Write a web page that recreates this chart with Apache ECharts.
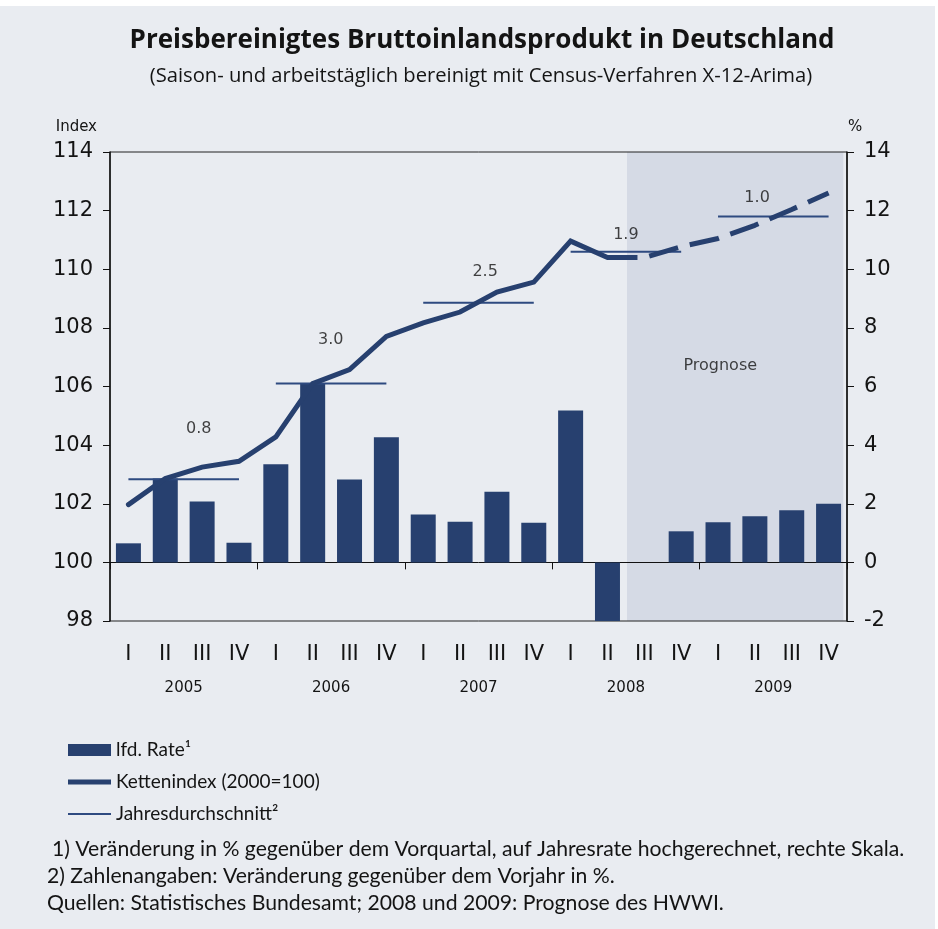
<!DOCTYPE html>
<html><head><meta charset="utf-8">
<script src="https://cdn.jsdelivr.net/npm/echarts@6/dist/echarts.min.js"></script>
<style>
html,body{margin:0;padding:0;background:#ffffff;}
#c{position:absolute;left:0;top:6px;width:935px;height:923px;background:#e9ecf1;}
</style>
</head><body><div id="c"></div>
<script>
// ---------- data ----------
const quarters = ['I','II','III','IV','I','II','III','IV','I','II','III','IV','I','II','III','IV','I','II','III','IV'];
const years = ['2005','2006','2007','2008','2009'];
// lfd. Rate (%), right axis
const rate = [0.65,2.86,2.08,0.67, 3.35,6.11,2.83,4.27, 1.63,1.39,2.41,1.35, 5.18,-2.0,0,1.06, 1.37,1.57,1.78,2.0];
// Kettenindex (2000=100): actual 2005 I .. 2008 II
const indexActual = [101.97,102.86,103.25,103.45, 104.28,106.1,106.58,107.71, 108.17,108.54,109.22,109.56, 110.96,110.4];
// Kettenindex forecast: 2008 II .. 2009 IV
const indexForecast = [110.4,110.4,110.77, 111.05,111.5,112.04,112.6];
// Jahresdurchschnitt (index level of the annual-average bar) and its label
const yearAvg = [102.84,106.1,108.86,110.6,111.8];
const yearAvgLabels = ['0.8','3.0','2.5','1.9','1.0'];
// annotation anchors in data space [quarter position, index]
const yearAvgLabelAt = [[2.41,104.57],[5.99,107.58],[10.18,109.9],[14.0,111.16],[17.56,112.42]];
const prognoseSpan = [14.03,19.9];
const prognoseLabel = 'Prognose';
const prognoseLabelAt = [16.56,106.7];
const leftAxis = {min:98,max:114,interval:2};
const rightAxis = {min:-2,max:14,interval:2};

// ---------- build ----------
const NAVY = '#27406f';
const TXT = '#141414';
const AXF = 'DejaVu Sans';
const TF = 'Lato';

const n = quarters.length;
const actualPadded = quarters.map((_, i) => i < indexActual.length ? indexActual[i] : null);
const fcStart = n - indexForecast.length;
const forecastPadded = quarters.map((_, i) => i >= fcStart ? indexForecast[i - fcStart] : null);

const series = [];
series.push({
  type:'custom', xAxisIndex:3, yAxisIndex:0, z:-1, silent:true,
  data:[prognoseSpan], encode:{x:[0,1]},
  renderItem:(params, api) => {
    const p0 = api.coord([api.value(0), leftAxis.max]);
    const p1 = api.coord([api.value(1), leftAxis.min]);
    return {type:'rect', shape:{x:p0[0], y:p0[1], width:p1[0]-p0[0], height:p1[1]-p0[1]}, style:{fill:'#d5dae5'}};
  }
});
series.push({
  name:'lfd. Rate¹', type:'bar', xAxisIndex:0, yAxisIndex:1, data:rate, barWidth:25,
  itemStyle:{color:NAVY}, z:2, silent:true
});
yearAvg.forEach((v, y) => {
  series.push({
    name:'Jahresdurchschnitt²', type:'line', xAxisIndex:0, yAxisIndex:0,
    data: quarters.map((_, i) => Math.floor(i/4) === y ? v : null),
    symbol:'none', lineStyle:{width:2, color:'#2e4a80'}, itemStyle:{color:'#2e4a80'}, z:3, silent:true
  });
});
series.push({
  name:'Kettenindex (2000=100)', type:'line', xAxisIndex:0, yAxisIndex:0, data:actualPadded,
  symbol:'none', lineStyle:{width:5, color:NAVY, cap:'round', join:'miter'}, itemStyle:{color:NAVY}, z:4, silent:true
});
series.push({
  name:'Kettenindex (2000=100)', type:'line', xAxisIndex:0, yAxisIndex:0, data:forecastPadded,
  symbol:'none', lineStyle:{width:5, color:NAVY, type:[30,12]}, itemStyle:{color:NAVY}, z:4, silent:true
});
const annData = yearAvgLabelAt.map((p, i) => [p[0], p[1], yearAvgLabels[i]]);
annData.push([prognoseLabelAt[0], prognoseLabelAt[1], prognoseLabel]);
series.push({
  type:'scatter', xAxisIndex:3, yAxisIndex:0, data:annData, symbolSize:1, z:5, silent:true,
  itemStyle:{color:'rgba(0,0,0,0)'},
  label:{show:true, position:'inside', formatter:p => p.data[2], fontFamily:AXF, fontSize:16, color:TXT}
});

const axisLabelStyle = {fontFamily:AXF, fontSize:21, color:TXT};

const option = {
  animation:false,
  backgroundColor:'#e9ecf1',
  grid:{left:110, right:88, top:146, bottom:308, show:true, borderColor:'#222', borderWidth:1, backgroundColor:'transparent'},
  xAxis:[
    {type:'category', data:quarters, position:'bottom', axisLine:{show:false}, axisTick:{show:false},
     axisLabel:Object.assign({margin:23, interval:0}, axisLabelStyle), splitLine:{show:false}},
    {type:'category', data:quarters, position:'bottom',
     axisLine:{show:true, onZero:true, onZeroAxisIndex:1, lineStyle:{color:'#111', width:1}},
     axisTick:{show:true, length:7, interval:(i) => i % 4 === 0, lineStyle:{color:'#111'}},
     axisLabel:{show:false}, splitLine:{show:false}},
    {type:'category', data:years, position:'bottom', axisLine:{show:false}, axisTick:{show:false},
     axisLabel:{margin:60, fontFamily:AXF, fontSize:15, color:TXT}, splitLine:{show:false}},
    {type:'value', min:0, max:n, show:false}
  ],
  yAxis:[
    {type:'value', position:'left', min:leftAxis.min, max:leftAxis.max, interval:leftAxis.interval,
     axisLine:{show:true, lineStyle:{color:'#111', width:1.5}},
     axisTick:{show:true, length:7, lineStyle:{color:'#111'}},
     splitLine:{show:false},
     axisLabel:Object.assign({margin:17}, axisLabelStyle),
     name:'Index', nameLocation:'end', nameGap:17,
     nameTextStyle:{fontFamily:AXF, fontSize:15, color:TXT, align:'right', padding:[0,13,0,0]}},
    {type:'value', position:'right', min:rightAxis.min, max:rightAxis.max, interval:rightAxis.interval,
     axisLine:{show:true, lineStyle:{color:'#111', width:1.5}},
     axisTick:{show:true, length:7, lineStyle:{color:'#111'}},
     splitLine:{show:false},
     axisLabel:Object.assign({margin:17}, axisLabelStyle),
     name:'%', nameLocation:'end', nameGap:17,
     nameTextStyle:{fontFamily:AXF, fontSize:15, color:TXT, align:'left', padding:[0,0,0,1]}}
  ],
  legend:{
    orient:'vertical', left:68, top:734, padding:0, itemWidth:43, itemHeight:12, itemGap:12, selectedMode:false,
    textStyle:{fontFamily:TF, fontSize:19, color:TXT, lineHeight:20},
    data:[
      {name:'lfd. Rate¹', icon:'rect'},
      {name:'Kettenindex (2000=100)', icon:'path://M0,0H43V5H0Z', itemStyle:{color:NAVY}},
      {name:'Jahresdurchschnitt²', icon:'path://M0,0H43V2H0Z', itemStyle:{color:'#2e4a80'}}
    ]
  },
  graphic:[
    {type:'text', x:482, y:35, style:{text:'Preisbereinigtes Bruttoinlandsprodukt in Deutschland', font:'bold 26px "Open Sans"', fill:TXT, align:'center', verticalAlign:'middle', textAlign:'center', textVerticalAlign:'middle'}},
    {type:'text', x:481, y:70, style:{text:'(Saison- und arbeitstäglich bereinigt mit Census-Verfahren X-12-Arima)', font:'20.2px "Open Sans"', fill:TXT, align:'center', verticalAlign:'middle', textAlign:'center', textVerticalAlign:'middle'}},
    {type:'text', x:52, y:843, style:{text:'1) Veränderung in % gegenüber dem Vorquartal, auf Jahresrate hochgerechnet, rechte Skala.', font:'21.2px Lato', fill:TXT, align:'left', verticalAlign:'middle', textAlign:'left', textVerticalAlign:'middle'}},
    {type:'text', x:47, y:870, style:{text:'2) Zahlenangaben: Veränderung gegenüber dem Vorjahr in %.', font:'21.2px Lato', fill:TXT, align:'left', verticalAlign:'middle', textAlign:'left', textVerticalAlign:'middle'}},
    {type:'text', x:47, y:897, style:{text:'Quellen: Statistisches Bundesamt; 2008 und 2009: Prognose des HWWI.', font:'21.2px Lato', fill:TXT, align:'left', verticalAlign:'middle', textAlign:'left', textVerticalAlign:'middle'}}
  ],
  series:series
};
const chart = echarts.init(document.getElementById('c'));
chart.setOption(option);
</script>
</body></html>
